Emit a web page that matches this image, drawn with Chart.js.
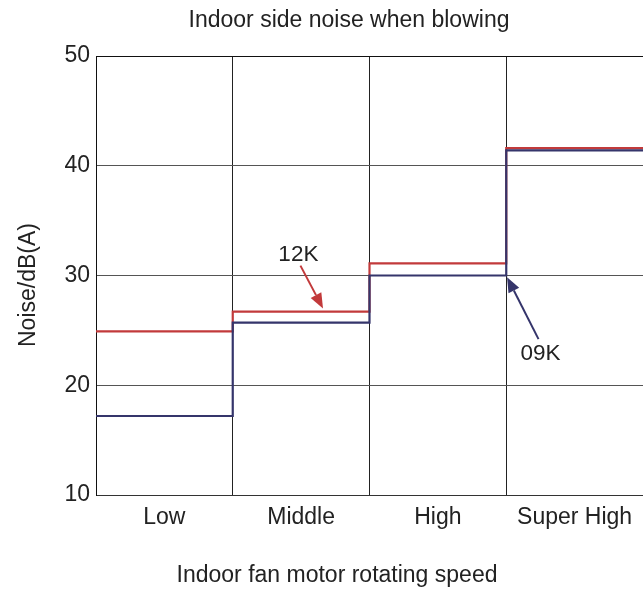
<!DOCTYPE html>
<html>
<head>
<meta charset="utf-8">
<script src="https://cdn.jsdelivr.net/npm/chart.js@4"></script>
<style>
  html, body { margin: 0; padding: 0; background: #fff; }
  #wrap { width: 643px; height: 592px; }
</style>
</head>
<body>
<div id="wrap"><canvas id="chart"></canvas></div>
<script>
const categories = ["Low", "Middle", "High", "Super High"];
const noise12K = [24.9, 26.7, 31.1, 41.6];
const noise09K = [17.2, 25.7, 30.0, 41.4];
const yTicks = [10, 20, 30, 40, 50];

const FONT = "'Liberation Sans', Arial, sans-serif";
const TEXT = "#222";
const RED = "#c23a3b";
const NAVY = "#35356b";

// step series: one point at the start of each category, plus the end of the last one
const toSteps = (vals) => {
  const pts = vals.map((v, i) => ({ x: i, y: v }));
  pts.push({ x: vals.length, y: vals[vals.length - 1] });
  return pts;
};

// callouts in data units (x = category index, y = dB)
const callouts = [
  { text: "12K", color: RED, label: [1.48, 31.9], from: [1.495, 30.9], to: [1.66, 27.0] },
  { text: "09K", color: NAVY, label: [3.25, 22.9], from: [3.236, 24.2], to: [3.006, 29.85] },
];

const calloutPlugin = {
  id: "callouts",
  afterDatasetsDraw(chart) {
    const { ctx } = chart;
    const xs = chart.scales.xs, y = chart.scales.y;
    ctx.save();
    callouts.forEach((c) => {
      const x0 = xs.getPixelForValue(c.from[0]), y0 = y.getPixelForValue(c.from[1]);
      const x1 = xs.getPixelForValue(c.to[0]), y1 = y.getPixelForValue(c.to[1]);
      const ang = Math.atan2(y1 - y0, x1 - x0);
      const len = 15, half = 6;
      const bx = x1 - len * Math.cos(ang), by = y1 - len * Math.sin(ang);
      ctx.strokeStyle = c.color;
      ctx.fillStyle = c.color;
      ctx.lineWidth = 2;
      ctx.beginPath();
      ctx.moveTo(x0, y0);
      ctx.lineTo(bx, by);
      ctx.stroke();
      ctx.beginPath();
      ctx.moveTo(x1, y1);
      ctx.lineTo(bx + half * Math.sin(ang), by - half * Math.cos(ang));
      ctx.lineTo(bx - half * Math.sin(ang), by + half * Math.cos(ang));
      ctx.closePath();
      ctx.fill();
      ctx.fillStyle = TEXT;
      ctx.font = "22.5px " + FONT;
      ctx.textAlign = "center";
      ctx.textBaseline = "middle";
      ctx.fillText(c.text, xs.getPixelForValue(c.label[0]), y.getPixelForValue(c.label[1]));
    });
    ctx.restore();
  },
};

const titlesPlugin = {
  id: "titles",
  afterDraw(chart) {
    const { ctx, chartArea } = chart;
    ctx.save();
    ctx.fillStyle = TEXT;
    ctx.font = "23px " + FONT;
    ctx.textAlign = "center";
    ctx.textBaseline = "alphabetic";
    ctx.fillText("Indoor side noise when blowing", chartArea.left + 253, 27);
    ctx.fillText("Indoor fan motor rotating speed", chartArea.left + 241, 582);
    ctx.translate(35, 285);
    ctx.rotate(-Math.PI / 2);
    ctx.fillText("Noise/dB(A)", 0, 0);
    ctx.restore();
  },
};

new Chart(document.getElementById("chart"), {
  type: "line",
  data: {
    labels: categories,
    datasets: [
      {
        label: "09K",
        data: toSteps(noise09K),
        xAxisID: "xs",
        borderColor: NAVY,
        borderWidth: 2.2,
        stepped: "before",
        pointRadius: 0,
        fill: false,
      },
      {
        label: "12K",
        data: toSteps(noise12K),
        xAxisID: "xs",
        borderColor: RED,
        borderWidth: 2.2,
        stepped: "before",
        pointRadius: 0,
        fill: false,
      },
    ],
  },
  options: {
    responsive: true,
    maintainAspectRatio: false,
    animation: false,
    layout: { padding: { top: 56, right: 0, left: 0, bottom: 0 } },
    plugins: {
      legend: { display: false },
      tooltip: { enabled: false },
      title: { display: false },
    },
    scales: {
      xs: {
        type: "linear",
        display: false,
        min: 0,
        max: categories.length,
      },
      x: {
        type: "category",
        position: "bottom",
        offset: true,
        grid: { offset: true, color: "#222", lineWidth: 1, drawTicks: false },
        border: { color: "#333", width: 1 },
        ticks: {
          color: TEXT,
          font: { family: FONT, size: 23 },
          padding: 9,
          maxRotation: 0,
          autoSkip: false,
        },
        afterFit(scale) { scale.height = 97; },
      },
      y: {
        min: 10,
        max: 50,
        afterBuildTicks(scale) { scale.ticks = yTicks.map((v) => ({ value: v })); },
        grid: { color: (c) => (c.tick && c.tick.value === 50 ? "#111" : "#555"), lineWidth: 1, drawTicks: false },
        border: { color: "#111", width: 1 },
        ticks: {
          color: TEXT,
          font: { family: FONT, size: 23 },
          padding: 6,
        },
        afterFit(scale) { scale.width = 96; },
      },
    },
  },
  plugins: [calloutPlugin, titlesPlugin],
});
</script>
</body>
</html>
